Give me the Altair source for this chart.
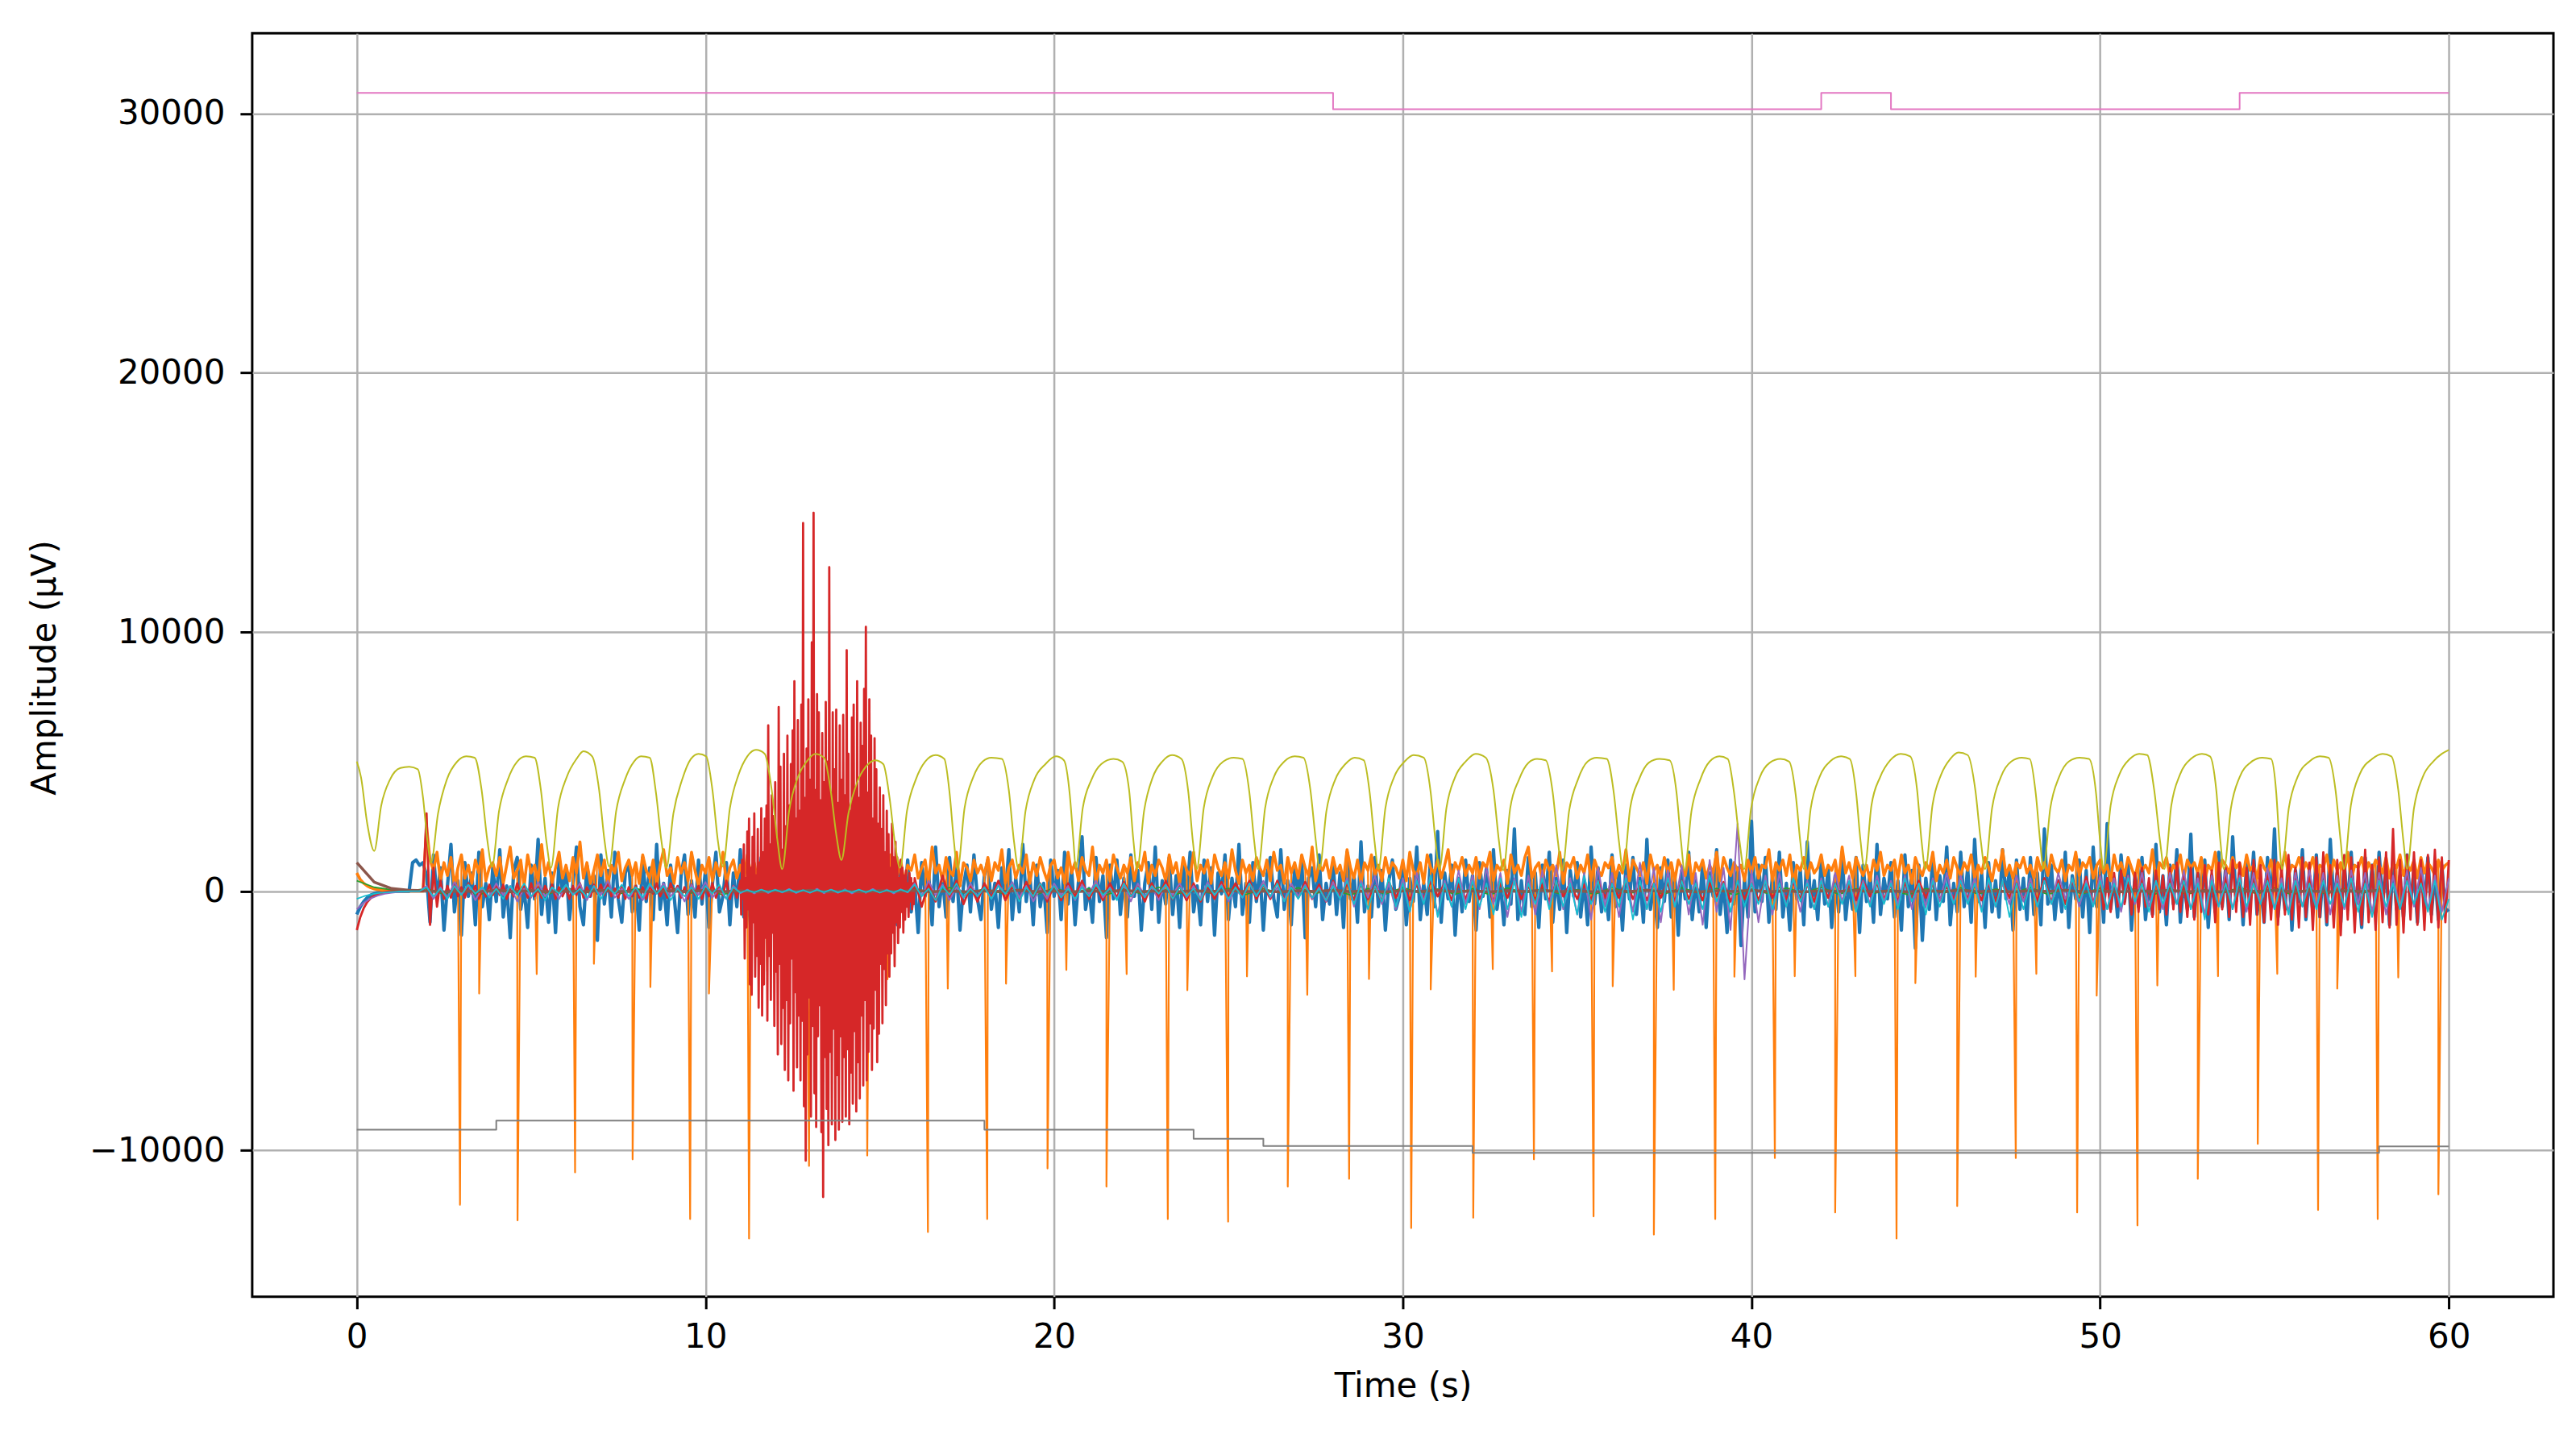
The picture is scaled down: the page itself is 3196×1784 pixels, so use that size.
import numpy as np
import pandas as pd
import altair as alt

# ------------------------------------------------------------------ data
# C0 (blue) sampled every 0.1 s from t = 0
blue_v = [
    -900, -600, -400, -250, -150, -100, -60, -40, -20, -10, 0, 0, 0, 0, 0, 0,
    1100, 1200, 1000, 1100,
    600, -1200, 1400, -300, 900, -1500, 200, 1800, -800, 400, -1700, 1100, -200, 700, -1300, 1500, -600, 300, -1100, 900,
    -400, 1600, -1000, 200, -1800, 800, 1300, -700, 100, -1400, 1000, -300, 2000, -900, 500, -1200, 700, -1600, 1200, -100,
    900, -1100, 300, 1700, -600, -1300, 1000, -200, 600, -1900, 1400, -500, 800, -1000, 1500, -300, -1200, 700, 1100, -800,
    200, -1500, 1300, -400, 900, -1100, 1800, -700, 300, -1300, 1000, -200, -1600, 600, 1400, -900, 400, -1000, 1200, -500,
    800, -1400, 300, 1500, -800, -200, 1100, -1300, 700, -600, 1600, -1000, 200, -1500, 900, -300, 1300, -1100, 500, -700,
    1000, -900, 400, -1200, 1300, -500, 800, -1400, 600, -300, 1100, -1000, 300, -700, 1200, -600, 900, -1300, 400, -200,
    1000, -1100, 600, -400, 1400, -900, 200, -1200, 800, -600, 1100, -300, 1500, -1000, 400, -1300, 900, -500, 1200, -800,
    300, -1600, 1100, -200, 700, -1300, 1700, -600, 500, -1000, 1300, -400, 900, -1500, 200, 1000, -800, 1400, -300, -1100,
    600, 1200, -700, 300, -1400, 900, -200, 1600, -1100, 500, -800, 1800, -400, 700, -1300, 1000, -600, 300, -1600, 1200,
    -200, 800, -1100, 1500, -500, 900, -1300, 400, 2100, -700, 100, -1200, 1300, -400, 600, -1800, 1000, -300, 1200, -900,
    500, -1000, 1400, -200, 800, -1500, 300, 1100, -700, 1700, -1200, 400, -500, 1300, -900, 600, -1400, 1000, -300, 1500,
    -800, 200, -1300, 1200, -400, 900, -1700, 700, -100, 1400, -1100, 500, -600, 1800, -900, 300, -1200, 1100, -400, 800,
    -1500, 600, 1300, -300, -1000, 1600, -700, 400, -1300, 1000, -200, 1200, -1800, 500, 900, -600, 1400, -1100, 300, -500,
    1100, -900, 700, -1400, 1500, -300, 600, -1200, 1900, -800, 200, -1000, 1300, -600, 800, -1500, 400, 1200, -700, -200,
    1000, -1300, 500, -400, 1700, -1100, 300, -900, 1400, -600, 2300, -1200, 700, -300, 1000, -1700, 500, -800, 1200, -400,
    600, -1500, 1100, -200, 900, -1000, 1600, -700, 300, -1300, 800, -500, 2400, -1100, 400, -900, 1300, -600, 700, -1400,
    1000, -300, 1500, -1200, 500, -700, 1200, -1600, 800, -200, 1100, -1000, 400, -1300, 1700, -500, 900, -800, 300, -1100,
    1400, -600, 700, -1500, 1000, -300, 1300, -900, 500, -1200, 2000, -700, 200, -1400, 900, -400, 1200, -1000, 600, -1700,
    800, -300, 1500, -1100, 400, -800, 1100, -1400, 700, -200, 1600, -900, 300, -1600, 1200, -500, 900, -2100, 500, -1000,
    2700, -800, 1000, -400, 1300, -1200, 600, -700, 1500, -1000, 300, -1500, 1100, -300, 800, -1300, 1900, -600, 400, -1100,
    1200, -500, 900, -1400, 600, -800, 1500, -1100, 300, -700, 1300, -1600, 1000, -400, 700, -1200, 1800, -900, 500, -300,
    1100, -1000, 400, -1500, 1400, -600, 800, -2200, 1000, -1900, 500, -700, 1300, -1100, 600, -400, 1700, -1300, 300, -800,
    1500, -600, 900, -1200, 2000, -400, 700, -1400, 1100, -800, 400, -1000, 1600, -300, 800, -1500, 1200, -700, 500, -1100,
    1300, -900, 700, -1300, 2400, -500, 1000, -1100, 400, -800, 1500, -1400, 600, -300, 1200, -1000, 800, -1600, 1700, -600,
    900, -1200, 2600, -700, 500, -1000, 1400, -400, 1100, -1500, 700, -600, 1300, -1100, 300, -900, 1800, -800, 600, -1300,
    1000, -500, 1600, -1200, 400, -700, 2200, -1000, 800, -300, 1200, -1400, 600, -800, 1500, -600, 900, -1100, 2100, -400,
    700, -1300, 1100, -500, 1500, -900, 300, -1200, 1300, -600, 2400, -1000, 500, -700, 1200, -1500, 800, -400, 1600, -1100,
    600, -800, 1400, -1000, 900, -1300, 2000, -500, 700, -1200, 1100, -700, 1500, -900, 400, -1400, 1300, -600, 1000, -800,
    1500, -400, 900, -1300, 1200, -700, 600, -1000, 1400, -500, 800, -1200, 1100, -600, 1300, -900, 700, -1100, 1000, -800,
    -700,
]

# C1 (orange) sampled every 0.1 s from t = 0, plus its sharp spikes and dips
orange_v = [
    700, 450, 300, 200, 130, 90, 60, 40, 30, 20, 10, 0, 0, 0, 0, 0, 0, 0, 0, 0,
    2500, 1200, 800, 1500, 400, 1100, 600, 1300, 200, 900, 1400, 500, 1000, 300, 1200, 700, 1600, 400, 900, 1100,
    600, 1300, 300, 1000, 1700, 500, 800, 1200, 200, 1400, 700, 1000, 400, 1800, 600, 1100, 300, 900, 1500, 500,
    1000, 400, 1300, 700, 1900, 500, 1100, 300, 800, 1400, 600, 1200, 200, 1000, 700, 1500, 400, 900, 1200, 600,
    1100, 300, 1400, 800, 500, 1200, 200, 1000, 1600, 600, 900, 300, 1300, 700, 1100, 400, 1500, 800, 200, 1000,
    700, 1300, 400, 1100, 600, 1500, 300, 900, 1200, 500, 1000, 400, 1400, 700, 1100, 300, 800, 1300, 600, 1000,
    500, 1200, 800, 300, 1000, 1400, 600, 900, 200, 1100, 700, 1300, 400, 1000, 800, 1500, 300, 900, 1200, 600,
    1000, 400, 1300, 700, 1100, 300, 1600, 800, 500, 1200, 700, 1000, 400, 1400, 900, 600, 1200, 300, 1000, 800,
    1400, 500, 900, 1200, 300, 1700, 700, 1000, 400, 1300, 800, 600, 1500, 200, 1100, 900, 400, 1200, 700, 1000,
    600, 1300, 400, 1100, 800, 1600, 300, 900, 1200, 500, 1000, 700, 1400, 300, 1100, 600, 1300, 800, 400, 1000,
    1200, 500, 900, 300, 1500, 700, 1100, 400, 1300, 800, 600, 1700, 300, 1000, 700, 1200, 400, 1400, 900, 500,
    1000, 700, 1300, 400, 1100, 800, 1500, 300, 1000, 600, 1200, 900, 400, 1400, 700, 1100, 300, 1300, 800, 600,
    1500, 400, 1000, 700, 1200, 300, 1400, 900, 600, 1100, 500, 1600, 800, 300, 1200, 700, 1000, 400, 1300, 900,
    600, 1200, 400, 1500, 800, 1000, 300, 1300, 700, 1100, 500, 1400, 900, 600, 1700, 400, 1000, 800, 1200, 500,
    1300, 700, 1000, 400, 1600, 900, 500, 1200, 300, 1100, 800, 1400, 600, 1000, 400, 1300, 700, 1100, 900, 500,
    1200, 400, 1500, 800, 600, 1100, 300, 1400, 900, 700, 1200, 500, 1000, 1600, 400, 1100, 800, 1300, 600, 1000,
    700, 1300, 500, 1100, 900, 1500, 400, 1000, 800, 1200, 300, 1400, 700, 1000, 600, 1300, 1700, 500, 900, 1100,
    400, 1200, 800, 1000, 600, 1500, 300, 1100, 900, 1300, 500, 1000, 700, 1400, 400, 1200, 800, 600, 1100, 900,
    1300, 500, 1000, 700, 1600, 400, 1200, 900, 600, 1100, 300, 1400, 800, 1000, 500, 1300, 700, 1100, 400, 1200,
    900, 600, 1400, 300, 1100, 800, 1200, 500, 1000, 700, 1500, 400, 1300, 900, 600, 1100, 800, 1000, 400, 1200,
    700, 1300, 500, 1000, 900, 1600, 400, 1100, 800, 1200, 600, 1400, 300, 1000, 800, 1300, 500, 1100, 700, 900,
    1400, 600, 1000, 800, 1200, 400, 1700, 700, 1100, 500, 1300, 900, 600, 1000, 400, 1200, 800, 1500, 600, 1000,
    800, 1200, 500, 1400, 700, 1000, 300, 1300, 900, 600, 1100, 800, 1500, 400, 1000, 700, 1200, 500, 1300, 900,
    600, 1100, 800, 1400, 500, 1000, 700, 1300, 900, 400, 1200, 800, 1600, 600, 1000, 500, 1100, 900, 1300, 700,
    1000, 500, 1300, 800, 1100, 600, 1400, 900, 700, 1200, 400, 1000, 800, 1500, 600, 1100, 900, 1300, 500, 1000,
    1200, 700, 1000, 400, 1400, 800, 1100, 600, 1300, 900, 500, 1200, 800, 1000, 700, 1600, 400, 1100, 900, 1300,
    600, 1000, 800, 1400, 500, 1200, 900, 1100, 700, 1300, 400, 1000, 800, 1500, 600, 1200, 1000, 700, 1300, 900,
    1100, 600, 1400, 800, 1000, 500, 1300, 900, 700, 1200, 400, 1100, 800, 1500, 600, 1000, 900, 1300, 700, 1100,
    800, 1300, 600, 1000, 900, 1400, 500, 1200, 800, 1100, 700, 1500, 400, 1000, 900, 1300, 600, 1100, 800, 1200,
    1000, 700, 1300, 500, 1100, 900, 1400, 600, 1000, 800, 1200, 500, 1300, 700, 1100, 900, 600, 1200, 800, 1000,
    1100,
]
orange_spike_t = [2.96, 4.61, 6.26, 7.91, 9.56, 11.25, 12.97, 14.64, 16.38, 18.08, 19.81, 21.50,
                  23.26, 24.99, 26.70, 28.46, 30.24, 32.02, 33.76, 35.47, 37.20, 38.96, 40.67,
                  42.40, 44.16, 45.90, 47.58, 49.34, 51.07, 52.80, 54.52, 56.25, 57.96, 59.70]
orange_spike_v = [-12100, -12700, -10850, -10350, -12650, -13400, -10600, -10200, -13150, -12650,
                  -10700, -11400, -12650, -12750, -11400, -11100, -13000, -12600, -10350, -12550,
                  -13250, -12650, -10300, -12400, -13400, -12150, -10300, -12400, -12900, -11100,
                  -9750, -12300, -12650, -11700]
orange_dip_t = [3.51, 5.16, 6.80, 8.42, 10.10, 11.77, 13.50, 15.22, 16.95, 18.62, 20.35, 22.08,
                23.82, 25.53, 27.26, 29.03, 30.80, 32.58, 34.28, 36.02, 37.77, 39.51, 41.24,
                42.98, 44.70, 46.43, 48.17, 49.90, 51.64, 53.38, 55.08, 56.80, 58.55]
orange_dip_v = [-3950, -3200, -2800, -3700, -3950, -3100, -3000, -3400, -3760, -3570, -3040, -3200,
                -3820, -3290, -4000, -3390, -3790, -3010, -3100, -3670, -3810, -3300, -3280,
                -3280, -3550, -3300, -3190, -4030, -3640, -3280, -3190, -3760, -3330]

# C2 (green) sampled every 0.5 s
green_v = [
    400, 150, 50, 0,
    100, -120, 80, -150, 120, -90, 60, -110, 140, -80,
    90, -130, 110, -70, 150, -100, 70, -140, 100, -90,
    120, -80, 60, -120, 130, -100, 80, -150, 110, -70,
    140, -110, 90, -80, 70, -130, 120, -90, 100, -140,
    80, -100, 150, -120, 60, -80, 110, -130, 90, -70,
    130, -90, 70, -150, 100, -110, 140, -80, 80, -120,
    100, -140, 120, -70, 90, -100, 60, -130, 150, -90,
    70, -110, 130, -80, 110, -150, 80, -100, 120, -70,
    150, -120, 90, -90, 60, -140, 100, -80, 130, -110,
    80, -70, 140, -130, 70, -100, 120, -90, 100, -150,
    90, -120, 60, -80, 150, -110, 130, -140, 70, -100,
    110, -90, 80,
]

# C3 (red) in segments: (start time, sample step, values)
red_seg0 = [-1500, -1000, -650, -420, -270, -170, -110, -70, -40, -20, -10, 0, 0, 0, 0, 0, 0, 0, 0, 0]
red_seg1 = [
    3000, -1300, 900, -600, 400, -300, 200, -250, 300, -200,
    150, -250, 300, -100, 200, -300, 100, -200, 250, -150,
    200, -150, 250, -300, 100, -200, 300, -150, 200, -250,
    300, -200, 150, -250, 200, -100, 250, -300, 150, -200,
    100, -300, 200, -150, 300, -250, 150, -200, 250, -100,
    250, -150, 300, -200, 100, -250, 200, -300, 150, -200,
    200, -250, 150, -300, 250, -100, 300, -200, 100, -250,
    300, -100, 200, -250, 150, -300, 250, -150, 200, -300,
    150, -200, 300, -250, 200, -150, 400, -300, 200, -250,
]
red_burst = [
    400, -900, 1200, -300, 1800, -2600, 500, -1400, 2300, -700,
    2800, -3600, 900, -4000, 2100, -1200, 3000, -3300, 600, -2500,
    2400, -4500, 1100, -2800, 3200, -4800, 1500, -3600, 2800, -1800,
    3300, -5000, 6400, -2500, 1800, -4200, 3700, -1600, 2900, -5200,
    4200, -3100, 2000, -6300, 7100, -2800, 4800, -5900, 1600, -4500,
    5300, -6900, 2500, -4200, 6000, -7300, 3300, -5100, 4900, -2600,
    6200, -7700, 8100, -3900, 2800, -6800, 6600, -4800, 3100, -7300,
    7200, -5000, 14200, -8300, 3600, -10400, 5500, -6300, 7400, -4100,
    4300, -8700, 9600, -5200, 14600, -7800, 3900, -9100, 7600, -5600,
    6900, -4400, 3500, -9300, 6100, -11800, 4200, -6400, 7300, -8400,
    5000, -9800, 12500, -6200, 3800, -9000, 6900, -5300, 4700, -9600,
    7000, -7100, 3400, -9200, 6400, -5600, 4300, -8900, 6800, -6400,
    3700, -8700, 9300, -6100, 5300, -9000, 3100, -7000, 6700, -8200,
    7200, -5400, 4000, -8500, 8100, -6600, 3600, -8000, 6500, -4800,
    5600, -7500, 7800, -4200, 10200, -7300, 3800, -6200, 7400, -5100,
    6000, -6900, 2800, -5300, 5900, -3800, 4700, -6600, 2600, -5500,
    4000, -2800, 2400, -5100, 3700, -3000, 1500, -4400, 3100, -2400,
    2200, -3300, 900, -2400, 2600, -1600, 1300, -2900, 1900, -1200,
    1300, -2000, 500, -1400, 1200, -800, 900, -1600, 600, -1100,
    800, -600, 300, -1000, 700, -400, 500, -700, 300, -500,
]
red_seg3 = [
    500, -600, 300, -400, 600, -300, 400, -500, 200, -400,
    300, -250, 400, -350, 200, -300, 350, -200, 300, -400,
    250, -350, 300, -200, 400, -300, 200, -350, 300, -250,
    350, -200, 250, -400, 300, -250, 400, -300, 200, -350,
    300, -400, 200, -300, 350, -250, 300, -200, 400, -300,
    250, -300, 400, -350, 200, -250, 350, -300, 250, -400,
    400, -250, 300, -350, 250, -300, 200, -400, 350, -250,
    300, -350, 250, -300, 400, -200, 300, -350, 250, -300,
    350, -300, 200, -400, 300, -250, 400, -300, 200, -350,
    250, -400, 350, -200, 300, -300, 250, -350, 400, -250,
    300, -250, 400, -300, 200, -350, 300, -250, 350, -400,
    400, -300, 250, -350, 300, -200, 350, -400, 250, -300,
    300, -350, 400, -250, 200, -300, 350, -300, 250, -400,
    350, -250, 300, -400, 250, -350, 400, -200, 300, -300,
    250, -400, 350, -300, 400, -250, 300, -350, 200, -300,
    400, -300, 250, -350, 300, -400, 350, -250, 300, -350,
    350, -400, 500, -450, 400, -500, 450, -400, 550, -500,
]
red_seg4 = [
    600, -700, 500, -800, 700, -600, 800, -500, 600, -900,
    700, -800, 900, -600, 500, -1000, 800, -700, 600, -900,
    900, -700, 1100, -800, 600, -1000, 900, -1100, 700, -800,
    1000, -900, 800, -1200, 1100, -700, 900, -1000, 1200, -800,
    1100, -1000, 900, -1300, 1200, -900, 1000, -1200, 800, -1100,
    1200, -1300, 1000, -900, 1400, -1100, 900, -1400, 1300, -1000,
    1100, -1500, 1300, -1000, 1500, -1200, 1000, -1400, 1200, -1700,
    1400, -1100, 1300, -1600, 1100, -1300, 1600, -1200, 1000, -1500,
    1300, -1200, 1500, -1400, 2400, -1300, 1200, -1600, 1400, -1100,
    1500, -1300, 1200, -1500, 1400, -1200, 1600, -1400, 1300, -1200,
    1200,
]
red_segments = [(0.0, 0.1, red_seg0), (2.0, 0.1, red_seg1), (11.0, 0.025, red_burst),
                (16.0, 0.2, red_seg3), (50.0, 0.1, red_seg4)]

# C4 (purple) sampled every 0.2 s
purple_v = [
    -700, -450, -280, -170, -100, -60, -30, -10, 0, 0,
    200, -300, 150, -250, 350, -100, 250, -350, 100, -200,
    300, -150, 200, -400, 100, -250, 350, -200, 150, -300,
    250, -100, 300, -350, 200, -150, 400, -250, 100, -300,
    150, -350, 250, -100, 300, -200, 150, -400, 250, -150,
    350, -250, 100, -300, 200, -80, 60, -90, 50, -70,
    60, -50, 80, -70, 40, -60, 90, -80, 50, -60,
    70, -90, 40, -60, 80, -50, 60, -90, 70, -50,
    300, -200, 400, -150, 250, -350, 150, -250, 300, -200,
    150, -300, 250, -100, 350, -250, 200, -400, 100, -300,
    300, -150, 200, -350, 250, -100, 400, -250, 150, -300,
    250, -400, 300, -200, 150, -350, 250, -150, 300, -250,
    200, -300, 350, -150, 250, -400, 100, -250, 300, -200,
    400, -250, 150, -350, 300, -200, 250, -300, 150, -400,
    350, -300, 500, -600, 400, -250, 600, -500, 300, -700,
    500, -800, 700, -400, 600, -900, 400, -600, 800, -500,
    600, -700, 900, -500, 700, -1000, 500, -800, 600, -900,
    800, -600, 1000, -700, 500, -900, 700, -1100, 900, -600,
    700, -1000, 600, -800, 1100, -700, 900, -1200, 800, -600,
    1000, -900, 700, -1300, 1200, -800, 900, -1500, 2600, -3400,
    800, -1200, 600, -900, 700, -600, 500, -800, 400, -700,
    500, -600, 700, -400, 600, -700, 400, -500, 600, -400,
    400, -500, 600, -700, 300, -600, 500, -400, 700, -500,
    600, -400, 500, -700, 400, -600, 300, -500, 600, -400,
    500, -600, 400, -500, 700, -300, 500, -600, 400, -500,
    600, -700, 500, -800, 600, -500, 700, -600, 400, -700,
    700, -500, 800, -700, 500, -900, 600, -600, 800, -700,
    600, -800, 700, -500, 900, -700, 500, -800, 700, -600,
    800, -600, 700, -900, 600, -700, 800, -500, 700, -800,
    700, -900, 600, -700, 800, -600, 900, -700, 600, -800,
    500,
]

# C5 (brown) sampled every 0.5 s: nearly flat at zero
brown_v = [
    1100, 350, 100, 30,
    20, -30, 10, -20, 30, -10, 20, -30, 10, -20,
    30, -20, 10, -30, 20, -10, 30, -20, 10, -30,
    20, -10, 30, -20, 10, -30, 20, -10, 30, -20,
    10, -30, 20, -10, 30, -20, 10, -30, 20, -10,
    30, -20, 10, -30, 20, -10, 30, -20, 10, -30,
    20, -10, 30, -20, 10, -30, 20, -10, 30, -20,
    10, -30, 20, -10, 30, -20, 10, -30, 20, -10,
    30, -20, 10, -30, 20, -10, 30, -20, 10, -30,
    20, -10, 30, -20, 10, -30, 20, -10, 30, -20,
    10, -30, 20, -10, 30, -20, 10, -30, 20, -10,
    30, -20, 10, -30, 20, -10, 30, -20, 10, -30,
    20, -10, 30,
]

# C6 (pink) and C7 (grey) step signals: level from each change time onward
pink_t = [0, 28, 42, 44, 54, 60]
pink_v = [30800, 30170, 30800, 30170, 30800, 30800]
gray_t = [0, 4, 18, 24, 26, 32, 58, 60]
gray_v = [-9200, -8850, -9200, -9550, -9830, -10100, -9850, -9850]

# C8 (olive) respiration-like wave: (time, value) points
olive_pts = [
    (0.0, 5000), (0.12, 4400), (0.3, 2600), (0.5, 1550),
    (0.7, 3300), (0.95, 4300), (1.25, 4750), (1.5, 4800), (1.75, 4700), (1.9, 3600), (2.02, 2000), (2.13, 1100),
    (2.33, 3000), (2.58, 4300), (2.88, 5000), (3.14, 5200), (3.38, 5150), (3.58, 3900), (3.74, 2000), (3.88, 950),
    (4.08, 3100), (4.33, 4300), (4.6, 5000), (4.85, 5200), (5.1, 5150), (5.28, 3900), (5.44, 1900), (5.57, 900),
    (5.77, 3200), (6.02, 4400), (6.3, 5100), (6.5, 5400), (6.75, 5200), (6.95, 3900), (7.1, 2000), (7.24, 950),
    (7.44, 3100), (7.69, 4300), (7.95, 5000), (8.15, 5200), (8.4, 5150), (8.58, 3800), (8.74, 1900), (8.88, 900),
    (9.08, 3000), (9.33, 4300), (9.58, 5100), (9.8, 5300), (10.02, 5200), (10.2, 3900), (10.36, 1900), (10.5, 950),
    (10.7, 3200), (10.95, 4500), (11.2, 5200), (11.45, 5450), (11.7, 5300), (11.9, 3900), (12.06, 2000), (12.2, 850),
    (12.4, 3100), (12.65, 4400), (12.9, 5000), (13.15, 5300), (13.4, 5150), (13.6, 3800), (13.76, 2100), (13.9, 1200),
    (14.1, 3000), (14.35, 4200), (14.6, 4800), (14.87, 5050), (15.1, 4900), (15.28, 3600), (15.44, 1800), (15.58, 900),
    (15.78, 3100), (16.03, 4300), (16.3, 5000), (16.6, 5250), (16.85, 5100), (17.0, 3800), (17.12, 2000), (17.23, 850),
    (17.43, 3200), (17.68, 4400), (17.95, 5000), (18.2, 5150), (18.5, 5100), (18.7, 3900), (18.85, 1900), (18.98, 850),
    (19.18, 3100), (19.43, 4300), (19.75, 4900), (20.05, 5200), (20.28, 5050), (20.45, 3700), (20.55, 2000), (20.62, 900),
    (20.82, 3200), (21.07, 4300), (21.35, 4900), (21.7, 5100), (21.95, 5000), (22.15, 3900), (22.27, 2000), (22.38, 850),
    (22.58, 3100), (22.83, 4400), (23.1, 5000), (23.38, 5250), (23.65, 5100), (23.85, 3800), (23.98, 1900), (24.09, 850),
    (24.29, 3200), (24.54, 4400), (24.85, 5000), (25.15, 5150), (25.4, 5100), (25.6, 3800), (25.74, 1900), (25.85, 850),
    (26.05, 3200), (26.3, 4400), (26.6, 5000), (26.9, 5200), (27.15, 5150), (27.35, 3900), (27.5, 2000), (27.61, 850),
    (27.81, 3100), (28.06, 4300), (28.35, 4900), (28.62, 5150), (28.88, 5050), (29.05, 3800), (29.19, 1900), (29.3, 850),
    (29.5, 3200), (29.75, 4400), (30.05, 5000), (30.31, 5250), (30.6, 5150), (30.8, 3800), (30.94, 1900), (31.05, 850),
    (31.25, 3200), (31.5, 4400), (31.8, 5000), (32.09, 5300), (32.38, 5150), (32.6, 3900), (32.76, 1900), (32.88, 800),
    (33.08, 3200), (33.33, 4300), (33.6, 4950), (33.85, 5100), (34.1, 5050), (34.3, 3800), (34.45, 1900), (34.57, 800),
    (34.77, 3100), (35.02, 4300), (35.3, 5000), (35.56, 5150), (35.85, 5100), (36.05, 3800), (36.2, 1900), (36.32, 800),
    (36.52, 3200), (36.77, 4300), (37.05, 4950), (37.36, 5100), (37.65, 5050), (37.85, 3800), (37.98, 1900), (38.08, 800),
    (38.28, 3100), (38.53, 4300), (38.8, 5000), (39.08, 5200), (39.32, 5100), (39.5, 3800), (39.66, 1900), (39.79, 850),
    (39.99, 3200), (40.24, 4400), (40.52, 4950), (40.83, 5100), (41.08, 5000), (41.27, 3700), (41.4, 1900), (41.5, 850),
    (41.7, 3200), (41.95, 4400), (42.25, 5000), (42.57, 5200), (42.82, 5100), (43.0, 3800), (43.13, 1900), (43.24, 850),
    (43.44, 3300), (43.69, 4400), (43.98, 5050), (44.28, 5300), (44.55, 5200), (44.75, 3900), (44.88, 1900), (44.99, 850),
    (45.19, 3300), (45.44, 4500), (45.7, 5100), (45.94, 5350), (46.2, 5250), (46.42, 3900), (46.58, 1900), (46.7, 850),
    (46.9, 3200), (47.15, 4400), (47.45, 5000), (47.75, 5150), (47.98, 5100), (48.15, 3800), (48.28, 1900), (48.37, 850),
    (48.57, 3200), (48.82, 4400), (49.1, 5000), (49.41, 5150), (49.68, 5100), (49.88, 3800), (50.0, 1900), (50.1, 850),
    (50.3, 3300), (50.55, 4500), (50.85, 5100), (51.12, 5300), (51.35, 5250), (51.55, 3900), (51.72, 1900), (51.84, 850),
    (52.04, 3300), (52.29, 4500), (52.6, 5100), (52.92, 5300), (53.15, 5200), (53.33, 3900), (53.45, 1900), (53.55, 850),
    (53.75, 3200), (54.0, 4400), (54.3, 4950), (54.65, 5150), (54.9, 5100), (55.05, 3800), (55.14, 1900), (55.21, 850),
    (55.41, 3200), (55.66, 4400), (56.0, 5000), (56.3, 5200), (56.55, 5150), (56.75, 3900), (56.9, 1900), (56.99, 850),
    (57.19, 3300), (57.44, 4500), (57.8, 5100), (58.1, 5300), (58.35, 5200), (58.55, 3900), (58.7, 1900), (58.8, 850),
    (59.0, 3200), (59.25, 4400), (59.55, 5000), (59.8, 5300), (60.0, 5450),
]

# C9 (cyan) sampled every 0.2 s
cyan_v = [
    -300, -200, -130, -80, -50, -30, -20, -10, 0, 0,
    150, -200, 100, -300, 200, -150, 250, -100, 150, -250,
    100, -300, 200, -150, 300, -200, 100, -350, 150, -100,
    250, -150, 100, -250, 200, -300, 150, -100, 250, -200,
    150, -250, 300, -100, 200, -350, 100, -200, 150, -300,
    200, -100, 250, -300, 150, -60, 40, -50, 60, -40,
    50, -40, 60, -50, 40, -60, 50, -40, 60, -50,
    40, -50, 60, -40, 50, -60, 40, -50, 60, -40,
    250, -200, 100, -350, 200, -150, 300, -250, 100, -200,
    150, -300, 200, -100, 250, -400, 150, -200, 300, -150,
    200, -250, 100, -300, 150, -200, 250, -150, 100, -350,
    300, -200, 150, -250, 200, -100, 250, -300, 150, -200,
    100, -350, 250, -150, 200, -300, 150, -250, 300, -200,
    250, -200, 300, -400, 150, -300, 200, -250, 100, -350,
    200, -300, 400, -500, 300, -700, 200, -400, 500, -600,
    300, -800, 400, -500, 600, -1000, 300, -600, 500, -700,
    400, -600, 300, -900, 500, -700, 400, -1000, 300, -500,
    500, -700, 400, -600, 300, -900, 600, -500, 400, -800,
    300, -600, 500, -1100, 400, -700, 300, -800, 500, -600,
    400, -500, 300, -700, 600, -400, 300, -800, 400, -600,
    300, -500, 400, -700, 300, -600, 500, -400, 300, -700,
    400, -600, 300, -500, 400, -800, 300, -600, 400, -500,
    300, -700, 500, -400, 300, -900, 400, -600, 300, -500,
    400, -500, 300, -800, 500, -600, 400, -1000, 300, -700,
    300, -600, 400, -500, 300, -700, 500, -400, 300, -600,
    400, -700, 300, -600, 500, -400, 300, -800, 400, -500,
    300, -500, 400, -700, 300, -1100, 400, -600, 300, -700,
    500, -600, 300, -500, 400, -700, 300, -900, 400, -600,
    300, -700, 400, -500, 300, -600, 500, -800, 300, -1000,
    400, -600, 300, -700, 400, -500, 300, -800, 400, -1100,
    -300,
]

X_TICKS = [0, 10, 20, 30, 40, 50, 60]
Y_TICKS = [-10000, 0, 10000, 20000, 30000]


# ------------------------------------------------------------------ tables
def sampled(values, step, start=0.0):
    t = start + step * np.arange(len(values))
    return pd.DataFrame({"t": np.round(t, 4), "v": values})


blue_df = sampled(blue_v, 0.1)
orange_base_df = sampled(orange_v, 0.1)
orange_df = pd.concat([
    orange_base_df,
    pd.DataFrame({"t": orange_spike_t, "v": orange_spike_v}),
    pd.DataFrame({"t": orange_dip_t, "v": orange_dip_v}),
]).sort_values("t", kind="stable")
green_df = sampled(green_v, 0.5)
red_df = pd.concat([sampled(v, step, start) for start, step, v in red_segments])
purple_df = sampled(purple_v, 0.2)
brown_df = sampled(brown_v, 0.5)
pink_df = pd.DataFrame({"t": pink_t, "v": pink_v})
gray_df = pd.DataFrame({"t": gray_t, "v": gray_v})
olive_df = pd.DataFrame(olive_pts, columns=["t", "v"])
cyan_df = sampled(cyan_v, 0.2)

# ------------------------------------------------------------------ chart
FONT = "DejaVu Sans"
x_scale = alt.Scale(domain=[-3, 63], nice=False, zero=False)
y_scale = alt.Scale(domain=[-15650, 33100], nice=False, zero=False)
x_axis = alt.Axis(values=X_TICKS, format="d", title="Time (s)", labelPadding=15,
                  titleX=1428, titleY=124, titleBaseline="alphabetic", titleAlign="center")
y_axis = alt.Axis(values=Y_TICKS, format="d", title="Amplitude (µV)", labelPadding=19,
                  titleX=-244, titleY=787, titleAngle=270, titleBaseline="alphabetic",
                  titleAlign="center")


def trace(df, color, width=1.8, interp="linear"):
    return alt.Chart(df).mark_line(
        color=color, strokeWidth=width, strokeJoin="round", interpolate=interp, clip=True
    ).encode(
        x=alt.X("t:Q", scale=x_scale, axis=x_axis),
        y=alt.Y("v:Q", scale=y_scale, axis=y_axis),
    )


layers = [
    trace(blue_df, "#1f77b4", 4.2),
    trace(orange_base_df, "#ff7f0e", 3.6),
    trace(orange_df, "#ff7f0e", 2.2),
    trace(green_df, "#2ca02c", 1.8),
    trace(red_df, "#d62728", 2.8),
    trace(purple_df, "#9467bd", 2.0),
    trace(brown_df, "#8c564b", 3.5),
    trace(pink_df, "#e377c2", 2.0, "step-after"),
    trace(gray_df, "#7f7f7f", 2.0, "step-after"),
    trace(olive_df, "#bcbd22", 2.0, "monotone"),
    trace(cyan_df, "#17becf", 1.8),
]

chart = alt.layer(*layers).properties(
    width=2856,
    height=1568,
    padding={"left": 305, "top": 33, "right": 20, "bottom": 160},
    autosize=alt.AutoSizeParams(type="none"),
    background="white",
).configure_view(
    stroke="black", strokeWidth=3
).configure_axis(
    domain=False,
    grid=True,
    gridColor="#b0b0b0",
    gridWidth=2.5,
    tickColor="black",
    tickWidth=3,
    tickSize=15,
    labelFont=FONT,
    labelFontSize=42,
    labelColor="black",
    titleFont=FONT,
    titleFontSize=42,
    titleFontWeight="normal",
    titleColor="black",
)

chart.save("out.html", embed_options={"renderer": "svg", "actions": False})
